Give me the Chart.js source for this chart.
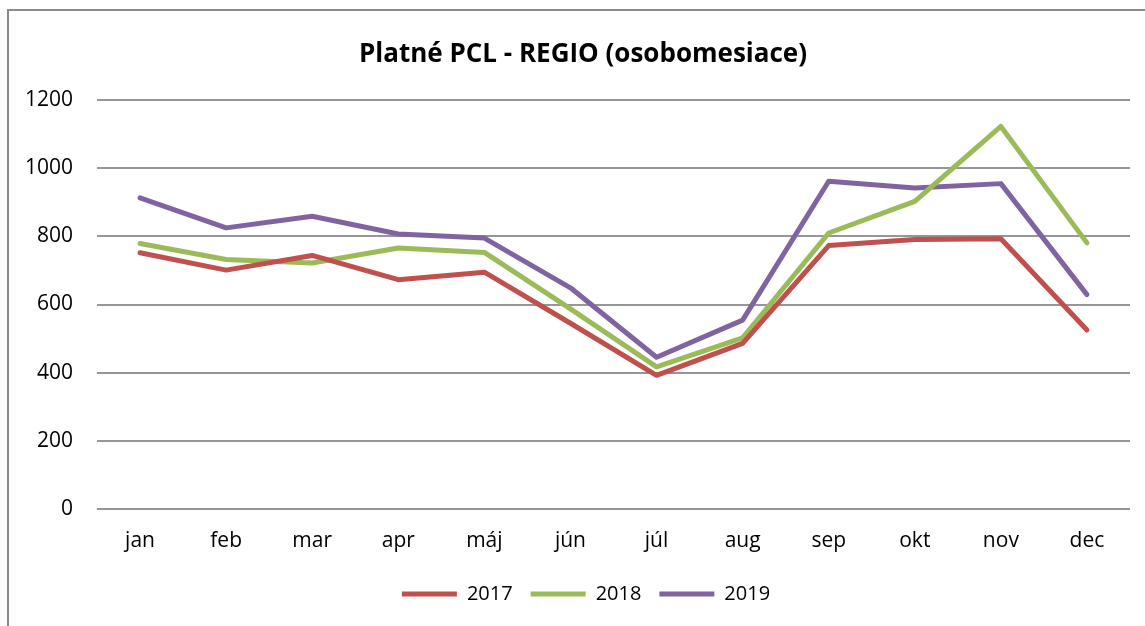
<!DOCTYPE html>
<html>
<head>
<meta charset="utf-8">
<script src="https://cdn.jsdelivr.net/npm/chart.js@4/dist/chart.umd.min.js"></script>
<style>
  html, body { margin: 0; padding: 0; background: #fff; }
  #wrap { position: relative; width: 1145px; height: 626px; }
</style>
</head>
<body>
<div id="wrap"><canvas id="c" width="1145" height="626"></canvas></div>
<script>
const months = ['jan','feb','mar','apr','máj','jún','júl','aug','sep','okt','nov','dec'];
const years = ['2017','2018','2019'];
const v2017 = [752, 701, 744, 673, 695, 545, 392, 486, 773, 791, 793, 525];
const v2018 = [779, 732, 722, 766, 753, 587, 417, 502, 810, 903, 1123, 781];
const v2019 = [913, 825, 859, 807, 795, 649, 445, 554, 962, 942, 955, 629];
const colors = ['#C0504D', '#9BBB59', '#8064A2'];
const titleText = 'Platné PCL - REGIO (osobomesiace)';
const FONT = '"Open Sans", "Liberation Sans", sans-serif';

const borderPlugin = {
  id: 'frame',
  afterLayout(chart) {
    // shift title and legend centres to match the reference
    if (chart.titleBlock) { chart.titleBlock.left += 18; chart.titleBlock.right += 18; }
    if (chart.legend) { chart.legend.left += 21; chart.legend.right += 21; }
  },
  beforeDraw(chart) {
    const ctx = chart.ctx;
    ctx.save();
    ctx.strokeStyle = '#8a8a8a';
    ctx.lineWidth = 2;
    ctx.beginPath();
    ctx.moveTo(8, 626);
    ctx.lineTo(8, 10);
    ctx.lineTo(1145, 10);
    ctx.stroke();
    ctx.restore();
  }
};

const series = [v2017, v2018, v2019];
new Chart(document.getElementById('c'), {
  type: 'line',
  data: {
    labels: months,
    datasets: series.map((d, i) => ({
      label: years[i],
      data: d,
      borderColor: colors[i],
      backgroundColor: colors[i],
      borderWidth: 5,
      pointRadius: 0,
      pointHoverRadius: 0,
      tension: 0,
      borderCapStyle: 'round',
      borderJoinStyle: 'round',
      fill: false
    }))
  },
  options: {
    responsive: false,
    animation: false,
    devicePixelRatio: 1,
    layout: { padding: { left: 0, right: 15, top: 39, bottom: 12 } },
    plugins: {
      tooltip: { enabled: false },
      title: {
        display: true,
        text: titleText,
        color: '#000',
        font: { family: FONT, size: 26, weight: 'bold' },
        padding: { top: 0, bottom: 30 }
      },
      legend: {
        position: 'bottom',
        labels: {
          color: '#000',
          font: { family: FONT, size: 20 },
          boxWidth: 55,
          boxHeight: 5,
          padding: 18,
          generateLabels(chart) {
            return chart.data.datasets.map((ds, i) => ({
              text: ds.label,
              fillStyle: ds.borderColor,
              strokeStyle: ds.borderColor,
              lineWidth: 0,
              fontColor: '#000',
              datasetIndex: i,
              hidden: false
            }));
          }
        }
      }
    },
    scales: {
      x: {
        offset: true,
        grid: { display: false },
        border: { display: false },
        ticks: { color: '#000', font: { family: FONT, size: 21 }, padding: 12, maxRotation: 0 }
      },
      y: {
        min: 0,
        max: 1200,
        afterFit(scale) { scale.width = 97; },
        grid: { color: '#969696', lineWidth: 2, drawTicks: false },
        border: { display: false },
        ticks: {
          stepSize: 200, color: '#000', font: { family: FONT, size: 21 }, padding: 24,
          callback: (v) => String(v)
        }
      }
    }
  },
  plugins: [borderPlugin]
});
</script>
</body>
</html>
